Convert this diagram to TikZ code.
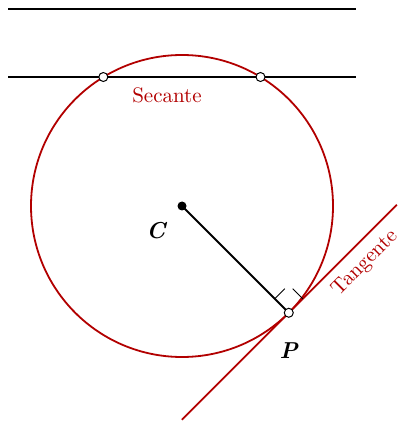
\documentclass[tikz,border=0pt]{standalone}
\definecolor{GeoRed}{RGB}{178,0,0}
\usetikzlibrary{calc,intersections,positioning}

\begin{document}
\begin{tikzpicture}[x=0.5pt,y=-0.5pt,line width=0.9pt,
  opendot/.style={circle,draw=black,fill=white,line width=0.5pt,inner sep=0pt,minimum size=4.5pt},
  fulldot/.style={circle,fill=black,inner sep=0pt,minimum size=4.5pt},
  redlabel/.style={text=GeoRed,font=\fontsize{10.5}{12}\selectfont},
  ptlabel/.style={font=\fontsize{11.5}{13}\selectfont\bfseries\itshape}]
\useasboundingbox (0,0) rectangle (400,421);
% circle and centre
\coordinate (C) at (182,206);
\draw[GeoRed,name path=circ] (C) circle[radius=151];
% the two horizontal lines
\coordinate (l1) at (8,9);
\coordinate (l2) at (356,9);
\coordinate (s1) at (8,77);
\coordinate (s2) at (356,77);
\draw (l1) -- (l2);
\draw[name path=sec] (s1) -- (s2);
\path[name intersections={of=circ and sec,by={A,B}}];
\node (seclab) [redlabel] at (167,95) {Secante};
% tangent through P
\coordinate (P) at ($(C)+(45:151)$);
\coordinate (t1) at ($(P)+(-107,107)$);
\coordinate (t2) at ($(P)+(108,-108)$);
\draw[GeoRed] (t1) -- (t2) node[redlabel,pos=0.79,sloped,below,yshift=-1pt] (tanlab) {Tangente};
\draw (C) -- (P);
% right angle mark
\coordinate (r1) at ($(P)+(-14,-14)$);
\coordinate (r2) at ($(P)+(14,-14)$);
\coordinate (rk) at ($(P)+(0,-28)$);
\draw[line width=0.4pt] (r1) -- ($(r1)!0.72!(rk)$);
\draw[line width=0.4pt] (r2) -- ($(r2)!0.72!(rk)$);
% points
\node (dA) [opendot] at (A) {};
\node (dB) [opendot] at (B) {};
\node (dP) [opendot] at (P) {};
\node (dC) [fulldot] at (C) {};
\node (Clab) [ptlabel,below left=4.5pt and 4.5pt of C] {C};
\node (Plab) [ptlabel,below=11pt of P] {P};
\end{tikzpicture}
\end{document}
